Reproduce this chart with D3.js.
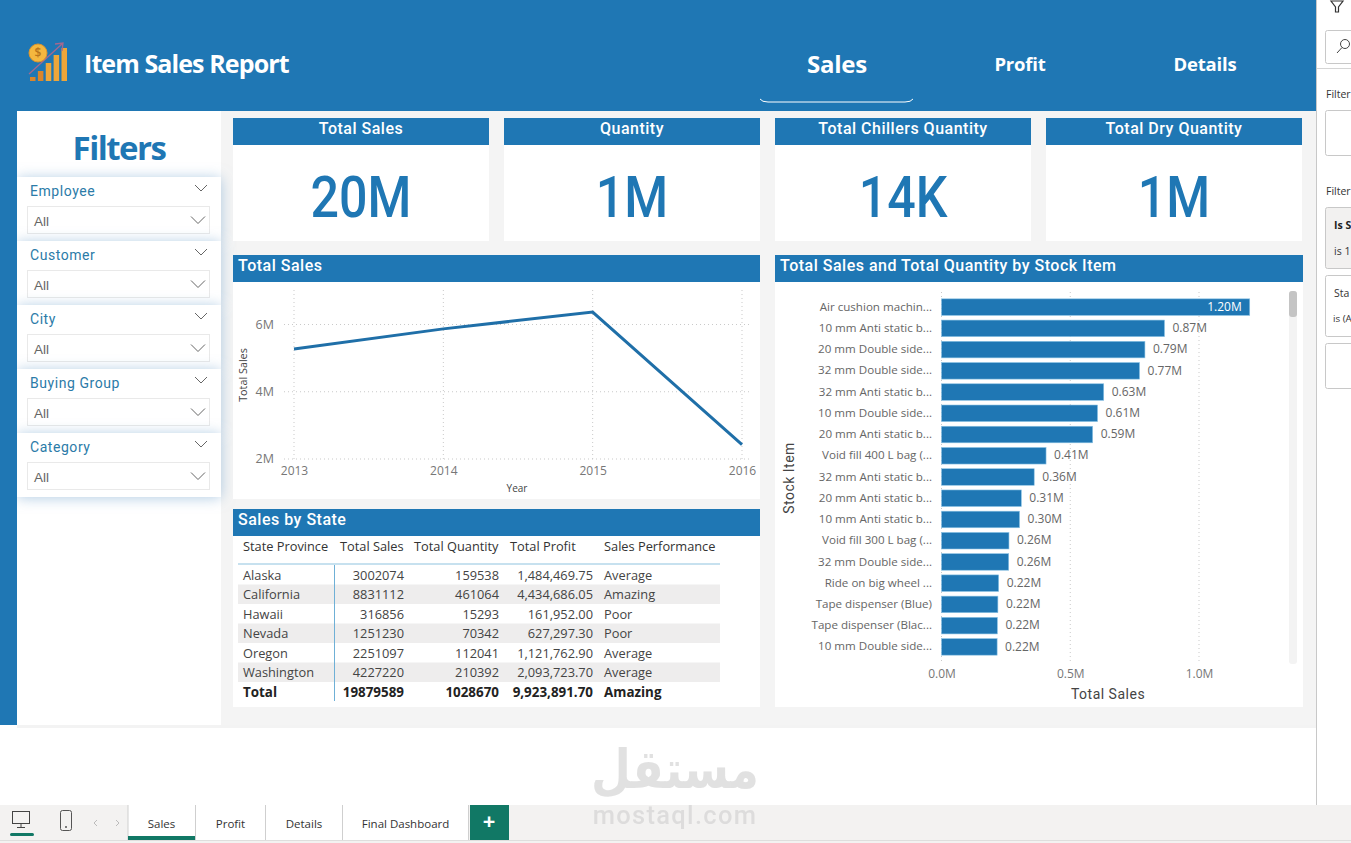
<!DOCTYPE html>
<html>
<head>
<meta charset="utf-8">
<title>Item Sales Report</title>
<script src="https://d3js.org/d3.v7.min.js"></script>
<style>
  html, body { margin: 0; padding: 0; background: #fff; overflow: hidden; }
  svg { display: block; }
  text { font-family: "Open Sans", sans-serif; }
  .din { font-family: Roboto, sans-serif; }
  .axis path.domain, .axis line { display: none; }
  .axis text { font-family: "Open Sans", sans-serif; fill: #777; }
  .grid { stroke: #c9c9c9; stroke-width: 1; stroke-dasharray: 1 3; }
</style>
</head>
<body>
<svg id="page" width="1351" height="843"></svg>

<script type="text/javascript">
  const BLUE = "#1f77b4";
  const GREEN = "#117865";

  // kpi cards
  const kpiTitles = ["Total Sales", "Quantity", "Total Chillers Quantity", "Total Dry Quantity"];
  const kpiValues = ["20M", "1M", "14K", "1M"];

  // slicers
  const slicerNames = ["Employee", "Customer", "City", "Buying Group", "Category"];

  // line chart
  const years = [2013, 2014, 2015, 2016];
  const yearSales = [5270000, 5870000, 6370000, 2430000];
  const salesTicks = [2000000, 4000000, 6000000];

  // bar chart
  const stockItems = ["Air cushion machin...", "10 mm Anti static b...", "20 mm Double side...", "32 mm Double side...",
    "32 mm Anti static b...", "10 mm Double side...", "20 mm Anti static b...", "Void fill 400 L bag (...",
    "32 mm Anti static b...", "20 mm Anti static b...", "10 mm Anti static b...", "Void fill 300 L bag (...",
    "32 mm Double side...", "Ride on big wheel ...", "Tape dispenser (Blue)", "Tape dispenser (Blac...", "10 mm Double side..."];
  const stockSales = [1197000, 866000, 790000, 769000, 630000, 606000, 587000, 406000, 360000, 310000, 303000,
    262000, 261000, 222000, 219000, 217000, 216000];
  const stockTicks = [0, 500000, 1000000];

  // table
  const tableHeaders = ["State Province", "Total Sales", "Total Quantity", "Total Profit", "Sales Performance"];
  const states = ["Alaska", "California", "Hawaii", "Nevada", "Oregon", "Washington", "Total"];
  const stateSales = [3002074, 8831112, 316856, 1251230, 2251097, 4227220, 19879589];
  const stateQuantity = [159538, 461064, 15293, 70342, 112041, 210392, 1028670];
  const stateProfit = [1484469.75, 4434686.05, 161952.00, 627297.30, 1121762.90, 2093723.70, 9923891.70];
  const statePerformance = ["Average", "Amazing", "Poor", "Poor", "Average", "Average", "Amazing"];

  // bottom tabs
  const tabNames = ["Sales", "Profit", "Details", "Final Dashboard"];

  const svg = d3.select("#page");
  const defs = svg.append("defs");

  const shadow = defs.append("filter").attr("id", "cardShadow")
    .attr("x", "-15%").attr("y", "-40%").attr("width", "130%").attr("height", "190%");
  shadow.append("feDropShadow").attr("dx", 0).attr("dy", 1).attr("stdDeviation", 7)
    .attr("flood-color", "#7fabd0").attr("flood-opacity", 0.6);

  const rect = (g, x, y, w, h, fill) => g.append("rect")
    .attr("x", x).attr("y", y).attr("width", w).attr("height", h).attr("fill", fill);

  const label = (g, x, y, str, size, fill, anchor = "start", weight = 400) => g.append("text")
    .attr("x", x).attr("y", y).attr("dy", "0.35em")
    .attr("font-size", size).attr("fill", fill)
    .attr("text-anchor", anchor).attr("font-weight", weight).text(str);

  const chevron = (g, cx, cy, w, h) => g.append("path")
    .attr("d", `M${cx - w},${cy - h}L${cx},${cy + h}L${cx + w},${cy - h}`)
    .attr("fill", "none").attr("stroke", "#666").attr("stroke-width", 1);

  // page background
  rect(svg, 221, 111, 1095, 614, "#f4f4f4");
  rect(svg, 17, 111, 204, 614, "#fff");
  rect(svg, 17, 725, 1299, 3, "#f3f3f3");

  // filters
  label(svg, 119, 148, "Filters", 33, BLUE, "middle", 700).attr("letter-spacing", -1.5);
  const slicerY = d3.scaleLinear().domain([0, 1]).range([177, 241]);
  slicerNames.forEach((name, i) => {
    const y = slicerY(i);
    const g = svg.append("g");
    rect(g, 17, y, 204, 64, "#fff").attr("filter", "url(#cardShadow)");
    label(g, 30, y + 14, name, 14, "#2b7ba8").attr("class", "din").attr("letter-spacing", 0.55);
    chevron(g, 201, y + 11, 6, 3);
    rect(g, 27.5, y + 29.5, 182, 27, "#fff").attr("stroke", "#e9e9e9");
    label(g, 34, y + 44, "All", 13.5, "#666").style("font-family", "Liberation Sans");
    chevron(g, 198, y + 43, 7, 3.5);
  });

  // header and side strip go over the slicer shadows
  rect(svg, 0, 0, 1316, 111, BLUE);
  rect(svg, 0, 111, 17, 614, BLUE);

  // logo
  const logo = svg.append("g");
  const logoX = d3.scaleBand().domain(d3.range(5)).range([30, 67]).paddingInner(0.3);
  [4, 10, 18, 26, 33].forEach((h, i) => {
    rect(logo, logoX(i), 81 - h, logoX.bandwidth(), h, i < 2 ? "#d9852b" : "#eda63a");
  });
  logo.append("path").attr("d", "M29,74L62,44M55,44L63,43L62,51")
    .attr("fill", "none").attr("stroke", "#a4688f").attr("stroke-width", 1.3);
  logo.append("circle").attr("cx", 38).attr("cy", 53).attr("r", 9)
    .attr("fill", "#f4b73f").attr("stroke", "#e0962b");
  label(logo, 38, 53, "$", 12, "#b8741c", "middle", 600);

  // title and nav
  label(svg, 84, 64.5, "Item Sales Report", 25, "#fff", "start", 700).attr("letter-spacing", -0.9);
  label(svg, 837, 64.5, "Sales", 24, "#fff", "middle", 700).attr("letter-spacing", -0.2);
  label(svg, 1020, 64.5, "Profit", 18.5, "#fff", "middle", 700).attr("letter-spacing", -0.2);
  label(svg, 1205, 64.5, "Details", 18.5, "#fff", "middle", 700).attr("letter-spacing", -0.2);
  svg.append("path").attr("d", "M760,99Q762,102 768,102L905,102Q911,102 913,99")
    .attr("fill", "none").attr("stroke", "#fff").attr("stroke-width", 1);

  // kpi cards
  const kpiX = d3.scaleLinear().domain([0, 1]).range([233, 504]);
  kpiTitles.forEach((title, i) => {
    const x = kpiX(i);
    rect(svg, x, 118, 256, 123, "#fff");
    rect(svg, x, 118, 256, 27, BLUE);
    label(svg, x + 128, 128, title, 16, "#fff", "middle", 500).attr("class", "din").attr("letter-spacing", 0.5);
    // the report font is narrower than anything installed, so squeeze it
    label(svg, 0, 0, kpiValues[i], 57, BLUE, "middle", 500).attr("class", "din")
      .attr("transform", `translate(${x + 128},197) scale(0.88,1)`);
  });

  // section panels
  const panel = (x, y, w, h, title) => {
    rect(svg, x, y, w, h, "#fff");
    rect(svg, x, y, w, 27, BLUE);
    label(svg, x + 5, y + 10, title, 16, "#fff", "start", 500).attr("class", "din").attr("letter-spacing", 0.5);
  };
  panel(233, 255, 527, 244, "Total Sales");
  panel(775, 255, 528, 452, "Total Sales and Total Quantity by Stock Item");
  panel(233, 509, 527, 198, "Sales by State");

  // line chart
  const lineX = d3.scaleLinear().domain([2013, 2016]).range([294, 742]);
  const lineY = d3.scaleLinear().domain([2000000, 6000000]).range([459, 324.5]);
  const lineG = svg.append("g");

  lineG.selectAll("line.gx").data(years).join("line").attr("class", "grid")
    .attr("x1", d => lineX(d)).attr("x2", d => lineX(d)).attr("y1", 290).attr("y2", 460);
  lineG.selectAll("line.gy").data(salesTicks).join("line").attr("class", "grid")
    .attr("x1", 284).attr("x2", 750).attr("y1", d => lineY(d)).attr("y2", d => lineY(d));

  lineG.append("g").attr("class", "axis").attr("transform", "translate(0,463)")
    .call(d3.axisBottom(lineX).tickValues(years).tickFormat(d3.format("d")).tickSize(0).tickPadding(3))
    .selectAll("text").attr("font-size", 12);
  lineG.append("g").attr("class", "axis").attr("transform", "translate(278,-0.5)")
    .call(d3.axisLeft(lineY).tickValues(salesTicks).tickFormat(d => d / 1e6 + "M").tickSize(0).tickPadding(4))
    .selectAll("text").attr("font-size", 12.5);

  lineG.append("path").datum(years)
    .attr("d", d3.line().x(d => lineX(d)).y((d, i) => lineY(yearSales[i])))
    .attr("fill", "none").attr("stroke", "#1f6fa8").attr("stroke-width", 3);

  label(lineG, 517, 488, "Year", 10, "#444", "middle");
  label(lineG, 0, 0, "Total Sales", 10.8, "#444", "middle").attr("transform", "translate(243,375) rotate(-90)");

  // bar chart
  const barX = d3.scaleLinear().domain([0, 1000000]).range([941.5, 1199]);
  const barY = d3.scaleBand().domain(d3.range(stockItems.length)).range([296.5, 657.5]).paddingInner(0.22).paddingOuter(0.11);
  const barG = svg.append("g");
  const fmtM = d => d3.format(".2f")(d / 1e6) + "M";

  barG.selectAll("line.g").data(stockTicks).join("line").attr("class", "grid")
    .attr("x1", d => barX(d)).attr("x2", d => barX(d)).attr("y1", 292).attr("y2", 661);

  barG.selectAll("rect.bar").data(stockSales).join("rect").attr("class", "bar")
    .attr("x", barX(0)).attr("y", (d, i) => barY(i))
    .attr("width", d => barX(d) - barX(0)).attr("height", barY.bandwidth())
    .attr("fill", BLUE).attr("stroke", "#8cc3e4").attr("stroke-width", 0.6);

  barG.selectAll("text.val").data(stockSales).join("text").attr("class", "val")
    .attr("x", (d, i) => i === 0 ? barX(d) - 8 : barX(d) + 8)
    .attr("y", (d, i) => barY(i) + barY.bandwidth() / 2 - 0.5).attr("dy", "0.35em")
    .attr("text-anchor", (d, i) => i === 0 ? "end" : "start")
    .attr("font-size", 12).attr("fill", (d, i) => i === 0 ? "#fff" : "#666").text(fmtM);

  barG.selectAll("text.cat").data(stockItems).join("text").attr("class", "cat")
    .attr("x", 932).attr("y", (d, i) => barY(i) + barY.bandwidth() / 2 - 0.5).attr("dy", "0.35em")
    .attr("text-anchor", "end").attr("font-size", 11.6).attr("fill", "#666").text(d => d);

  barG.append("g").attr("class", "axis").attr("transform", "translate(0,667)")
    .call(d3.axisBottom(barX).tickValues(stockTicks).tickFormat(d => (d / 1e6).toFixed(1) + "M").tickSize(0).tickPadding(2))
    .selectAll("text").attr("font-size", 12);

  label(barG, 1108, 694, "Total Sales", 14, "#444", "middle").attr("class", "din").attr("letter-spacing", 0.5);
  label(barG, 0, 0, "Stock Item", 14, "#444", "middle").attr("class", "din").attr("letter-spacing", 0.5)
    .attr("transform", "translate(789,478) rotate(-90)");

  rect(barG, 1289, 291, 8, 373, "#f3f3f3").attr("rx", 3);
  rect(barG, 1289, 291, 8, 26, "#c4c4c4").attr("rx", 3);

  // table
  const rowY = d3.scaleLinear().domain([0, 6]).range([575.5, 692.5]);
  const headerX = [243, 340, 414, 510, 604];
  const tableG = svg.append("g");

  states.forEach((s, i) => {
    if (i % 2 === 1 && i < 6) rect(tableG, 238, rowY(i) - 10.5, 482, 19.5, "#eeeded");
  });
  tableHeaders.forEach((h, i) => label(tableG, headerX[i], 546.5, h, 12.8, "#333"));
  rect(tableG, 238, 563.5, 482, 1, "#8fc4e0");
  rect(tableG, 334, 565, 1, 136, "#6fb0d6");

  states.forEach((s, i) => {
    const w = i === 6 ? 700 : 400;
    const c = i === 6 ? "#222" : "#444";
    const size = i === 6 ? 13.4 : 12.8;
    label(tableG, 243, rowY(i), s, size, c, "start", w);
    label(tableG, 404, rowY(i), stateSales[i], size, c, "end", w);
    label(tableG, 499, rowY(i), stateQuantity[i], size, c, "end", w);
    label(tableG, 593, rowY(i), d3.format(",.2f")(stateProfit[i]), size, c, "end", w);
    label(tableG, 604, rowY(i), statePerformance[i], size, c, "start", w);
  });

  // right filter pane
  const pane = svg.append("g");
  rect(pane, 1316, 0, 35, 805, "#fff");
  rect(pane, 1316, 0, 1, 805, "#c8c8c8");
  rect(pane, 1317, 68, 34, 1, "#d5d5d5");
  pane.append("path").attr("d", "M1331,1L1343,1L1338.5,7L1338.5,12L1335.5,12L1335.5,7Z")
    .attr("fill", "none").attr("stroke", "#333").attr("stroke-width", 1.2);
  const paneBox = (y, h, fill) => rect(pane, 1325.5, y, 40, h, fill).attr("stroke", "#c8c8c8").attr("rx", 2);
  paneBox(30.5, 33, "#fff");
  pane.append("circle").attr("cx", 1345).attr("cy", 44).attr("r", 4.5).attr("fill", "none").attr("stroke", "#444");
  pane.append("path").attr("d", "M1342,47.5L1337,53").attr("stroke", "#444").attr("stroke-width", 1);
  label(pane, 1326, 94, "Filter", 10.5, "#333");
  paneBox(110.5, 45, "#fff");
  label(pane, 1326, 191, "Filter", 10.5, "#333");
  paneBox(207.5, 61, "#f2f1f0");
  label(pane, 1334, 225, "Is S", 10.5, "#222", "start", 700);
  label(pane, 1334, 251, "is 1", 10.5, "#333");
  paneBox(275.5, 61, "#fff");
  label(pane, 1334, 293, "Sta", 10.5, "#333");
  label(pane, 1333, 319, "is (A", 9.8, "#333");
  paneBox(343.5, 45, "#fff");

  // bottom tab bar
  const tabs = svg.append("g");
  rect(tabs, 0, 805, 1351, 38, "#f3f2f1");
  rect(tabs, 0, 840, 1351, 1, "#dfdedd");
  const tabEdges = [128, 196, 266, 343, 469];
  tabNames.forEach((t, i) => {
    rect(tabs, tabEdges[i], 805, tabEdges[i + 1] - tabEdges[i] - 1, 35, "#fff");
    rect(tabs, tabEdges[i + 1] - 1, 805, 1, 35, "#cfcfcf");
    label(tabs, (tabEdges[i] + tabEdges[i + 1]) / 2 - 0.5, 824, t, 11.5, "#333", "middle");
  });
  rect(tabs, 127.5, 805, 1, 35, "#cfcfcf");
  rect(tabs, 128, 836, 67, 4, GREEN);
  rect(tabs, 470, 805, 39, 35, GREEN);
  label(tabs, 489, 821, "+", 22, "#fff", "middle", 700);

  rect(tabs, 12.5, 811.5, 17, 12, "none").attr("stroke", "#444");
  tabs.append("path").attr("d", "M21,824V827M17,827.5H25").attr("stroke", "#444").attr("fill", "none");
  rect(tabs, 10, 833, 24, 3, GREEN).attr("rx", 1.5);
  rect(tabs, 60.5, 810.5, 11, 20, "none").attr("stroke", "#555").attr("rx", 2);
  tabs.append("circle").attr("cx", 66).attr("cy", 827).attr("r", 1).attr("fill", "#555");
  tabs.append("path").attr("d", "M97,820L94,823L97,826M116,820L119,823L116,826")
    .attr("fill", "none").attr("stroke", "#bbb");

  // watermark
  const mark = svg.append("g").attr("opacity", 0.62);
  label(mark, 0, 0, "مستقل", 54, "#d0d0d0", "middle", 700).style("font-family", "DejaVu Sans")
    .attr("transform", "translate(675,769) scale(0.85,1)");
  label(mark, 675, 815, "mostaql.com", 25.5, "#d0d0d0", "middle", 500).style("font-family", "Roboto").attr("letter-spacing", 1.3);
</script>
</body>
</html>
